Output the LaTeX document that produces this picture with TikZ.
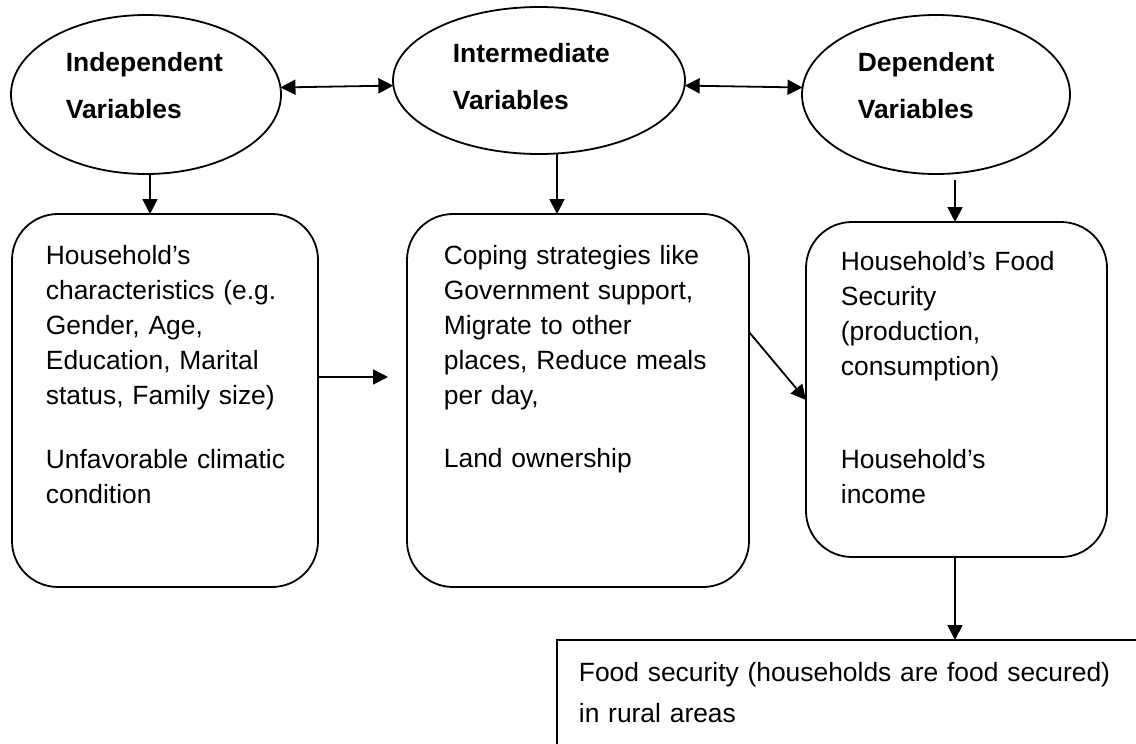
\documentclass[tikz,border=0pt]{standalone}
\usepackage{fontspec}
\setmainfont{Liberation Sans}
\usetikzlibrary{shapes.geometric,arrows.meta}
\begin{document}
\begin{tikzpicture}[x=0.5pt,y=-0.5pt,
  line width=0.9pt,
  ell/.style={draw, ellipse, inner sep=0pt, outer sep=0pt},
  rbox/.style={draw, rounded corners=23pt, inner sep=0pt, outer sep=0pt},
  sbox/.style={draw, inner sep=0pt, outer sep=0pt},
  etext/.style={anchor=base west, inner sep=0pt, text width=120pt, align=left, font=\fontsize{13.2}{23.5}\selectfont\bfseries},
  btext/.style={anchor=base west, inner sep=0pt, text width=200pt, align=left, font=\fontsize{13.2}{17.5}\selectfont},
  arr/.style={-{Triangle[length=7.5pt,width=7.5pt]}},
  darr/.style={{Triangle[length=7.5pt,width=7.5pt]}-{Triangle[length=7.5pt,width=7.5pt]}}
]
\useasboundingbox (0,0) rectangle (1136,744);
\clip (0,0) rectangle (1136,744);

% ellipses
\node[ell, minimum width=135pt, minimum height=79.5pt] (e1) at (146,94.5) {};
\node[ell, minimum width=146pt, minimum height=73.5pt] (e2) at (539,80.5) {};
\node[ell, minimum width=134pt, minimum height=79.5pt] (e3) at (936,94.5) {};
\node[etext] (t1) at (65,71) {Independent\\Variables};
\node[etext] (t2) at (452,62) {Intermediate\\Variables};
\node[etext] (t3) at (857,71) {Dependent\\Variables};

% boxes
\node[rbox, minimum width=153pt, minimum height=186.5pt] (b1) at (165,400.5) {};
\node[rbox, minimum width=171pt, minimum height=186.5pt] (b2) at (578,400.5) {};
\node[rbox, minimum width=150.5pt, minimum height=167.5pt] (b3) at (956.5,389.5) {};
\node[sbox, minimum width=301.5pt, minimum height=80pt] (b4) at (858.5,720) {};

\node[btext] (x1) at (45,264) {Household’s\\characteristics (e.g.\\Gender, Age,\\Education, Marital\\status, Family size)\\[14.5pt]Unfavorable climatic\\condition};
\node[btext] (x2) at (443,264) {Coping strategies like\\Government support,\\Migrate to other\\places, Reduce meals\\per day,\\[14pt]Land ownership};
\node[btext] (x3) at (840,270) {Household’s Food\\Security\\(production,\\consumption)\\[29pt]Household’s\\income};
\node[btext, text width=300pt, font=\fontsize{13.2}{20.5}\selectfont] (x4) at (578,681) {Food security (households are food secured)\\in rural areas};

% connectors
\coordinate (a3) at (955,180);
\coordinate (h1) at (388,377);
\coordinate (g1) at (0,332);
\coordinate (g2) at (0,400);
\draw[darr] (e1.3) -- (e2.182);
\draw[darr] (e2.-2) -- (e3.177);
\draw[arr] ([xshift=2pt]e1.south) -- ([xshift=2pt]e1.south |- b1.north);
\draw[arr] ([xshift=9pt]e2.south) -- ([xshift=9pt]e2.south |- b2.north);
\draw[arr] (a3) -- (a3 |- b3.north);
\draw[arr] (b1.east |- h1) -- (h1);
\draw[arr] (b2.east |- g1) -- (b3.west |- g2);
\draw[arr] ([xshift=-0.75pt]b3.south) -- ([xshift=-0.75pt]b3.south |- b4.north);
\end{tikzpicture}
\end{document}
